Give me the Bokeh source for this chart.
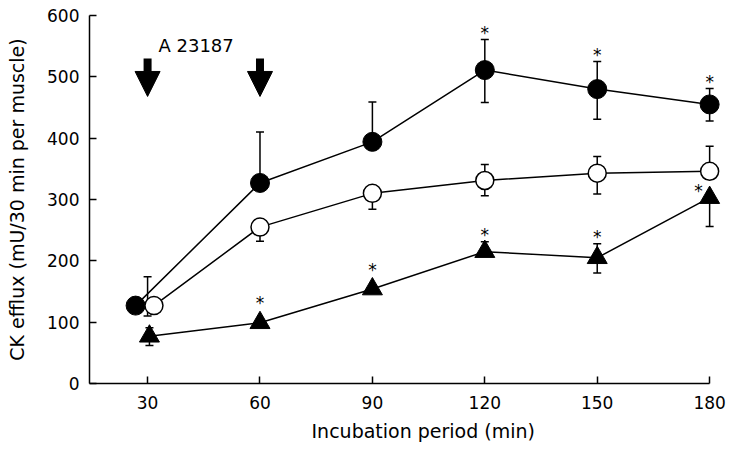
from bokeh.plotting import figure
from bokeh.models import Arrow, NormalHead, Label, Title, FixedTicker
from bokeh.core.properties import value
from bokeh.embed import file_html
from bokeh.resources import INLINE

FONT = "DejaVu Sans"

# ---- data ----
times = [30, 60, 90, 120, 150, 180]

filled_mean = [127, 327, 394, 511, 480, 455]
filled_upper = [None, 410, 459, 561, 525, 481]
filled_lower = [None, None, None, 458, 431, 428]

open_mean = [127, 255, 310, 331, 343, 346]
open_upper = [174, None, None, 357, 370, 387]
open_lower = [110, 232, 284, 306, 309, None]

tri_mean = [77, 99, 154, 215, 205, 303]
tri_upper = [91, None, None, 231, 228, None]
tri_lower = [62, None, None, None, 180, 256]

filled_star_times = [120, 150, 180]
filled_star_y = [578, 542, 498]
tri_star_times = [60, 90, 120, 150, 177]
tri_star_y = [137, 191, 248, 245, 321]

arrow_times = [30, 60]
arrow_top = 530
arrow_tip = 468
treatment_label = "A 23187"

x_ticks = [30, 60, 90, 120, 150, 180]
y_ticks = [0, 100, 200, 300, 400, 500, 600]

# first-point nudges so overlapping symbols at t=30 stay visible
filled_x = [t - 3.2 if i == 0 else t for i, t in enumerate(times)]
open_x = [t + 1.7 if i == 0 else t for i, t in enumerate(times)]
tri_x = [t + 0.5 if i == 0 else t for i, t in enumerate(times)]

p = figure(frame_width=631, frame_height=368,
           x_range=(14.5, 182.9), y_range=(0, 600),
           output_backend="svg", toolbar_location=None,
           min_border_left=89, min_border_right=8,
           min_border_top=15, min_border_bottom=30)
p.outline_line_color = None
p.grid.grid_line_color = None
p.background_fill_color = "white"

for ax in (p.xaxis[0], p.yaxis[0]):
    ax.axis_line_width = 1.5
    ax.axis_line_color = "black"
    ax.major_tick_line_width = 1.5
    ax.major_tick_line_color = "black"
    ax.major_tick_in = 7
    ax.major_tick_out = 0
    ax.minor_tick_line_color = None
    ax.major_label_text_font = FONT
    ax.major_label_text_font_size = "17px"
    ax.major_label_text_color = "black"
    ax.axis_label_text_font = FONT
    ax.axis_label_text_font_size = "19px"
    ax.axis_label_text_font_style = "normal"
    ax.axis_label_text_color = "black"

p.xaxis.bounds = (14.5, 180)
p.xaxis.ticker = FixedTicker(ticks=x_ticks)
p.yaxis.ticker = FixedTicker(ticks=y_ticks)
p.xaxis.major_label_standoff = 12
p.yaxis.major_label_standoff = 10
p.yaxis.axis_label = "CK efflux (mU/30 min per muscle)"
p.yaxis.axis_label_standoff = 16

xt = Title(text="Incubation period (min)", align="left", offset=222,
           text_font=FONT, text_font_size="19px", text_font_style="normal",
           text_color="black", standoff=12)
p.add_layout(xt, "below")


def err(xs, means, bounds):
    sx, y0, y1 = [], [], []
    for x, m, b in zip(xs, means, bounds):
        if b is not None:
            sx.append(x); y0.append(m); y1.append(b)
    p.segment(x0=sx, y0=y0, x1=sx, y1=y1, line_color="black", line_width=1.5)
    p.scatter(sx, y1, marker="dash", size=8, line_color="black", line_width=1.5)


# error bars for the t=30 open circle sit at the nominal time
open_err_x = list(times)
for xs, m, u, l in ((filled_x, filled_mean, filled_upper, filled_lower),
                    (open_err_x, open_mean, open_upper, open_lower),
                    (tri_x, tri_mean, tri_upper, tri_lower)):
    err(xs, m, u)
    err(xs, m, l)

p.line(filled_x, filled_mean, line_color="black", line_width=1.5)
p.line(open_x, open_mean, line_color="black", line_width=1.5)
p.line(tri_x, tri_mean, line_color="black", line_width=1.5)

p.scatter(filled_x, filled_mean, marker="circle", size=19,
          fill_color="black", line_color="black")
p.scatter(open_x, open_mean, marker="circle", size=18,
          fill_color="white", line_color="black", line_width=1.5)
p.scatter(tri_x, tri_mean, marker="triangle", size=20,
          fill_color="black", line_color="black")

p.text(filled_star_times, filled_star_y, text=["*"] * len(filled_star_times),
       text_font=value(FONT), text_font_size="17px", text_align="center",
       text_baseline="middle", y_offset=4, text_color="black")
p.text(tri_star_times, tri_star_y, text=["*"] * len(tri_star_times),
       text_font=value(FONT), text_font_size="17px", text_align="center",
       text_baseline="middle", y_offset=4, text_color="black")

for t in arrow_times:
    p.add_layout(Arrow(x_start=t, y_start=arrow_top, x_end=t, y_end=arrow_tip,
                       line_width=8, line_color="black",
                       end=NormalHead(size=25, fill_color="black",
                                      line_color="black", line_width=1)))

p.add_layout(Label(x=32.9, y=551, text=treatment_label, text_font=FONT,
                   text_font_size="18px", text_baseline="middle",
                   text_color="black"))

open("out.html", "w").write(file_html(p, INLINE))
